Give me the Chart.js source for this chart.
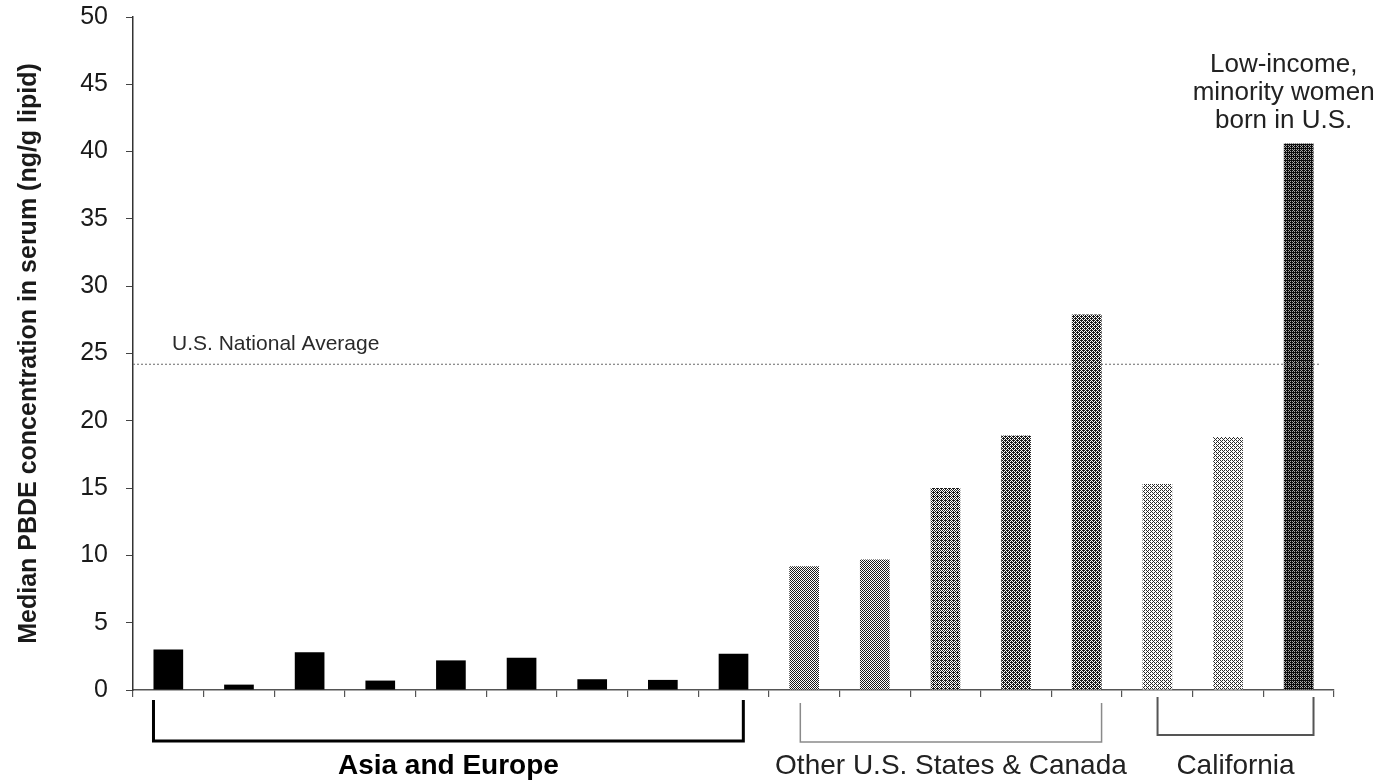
<!DOCTYPE html>
<html>
<head>
<meta charset="utf-8">
<script src="https://cdn.jsdelivr.net/npm/chart.js@4"></script>
<style>
  html, body { margin: 0; padding: 0; background: #fff; }
  #myChart { display: block; }
</style>
</head>
<body>
<canvas id="myChart" width="1395" height="784"></canvas>
<script>
const groupNames = ['Asia and Europe', 'Other U.S. States & Canada', 'California'];
const asiaEurope = [3.0, 0.4, 2.8, 0.7, 2.2, 2.4, 0.8, 0.75, 2.7];
const otherUS = [9.2, 9.7, 15.0, 18.9, 27.9];
const california = [15.3, 18.8, 40.6];
const yTicks = [0, 5, 10, 15, 20, 25, 30, 35, 40, 45, 50];
const nationalAverage = 24.2;
const nationalLabel = 'U.S. National Average';
const highlightLabel = ['Low-income,', 'minority women', 'born in U.S.'];

const groups = [asiaEurope, otherUS, california];
const values = groups.flat();
// one hidden category per bar, named by its group
const labels = [];
groups.forEach((g, gi) => g.forEach((_, i) => labels.push(groupNames[gi] + ' ' + (i + 1))));

const FONT = '"Liberation Sans", Arial, sans-serif';

// ordered-dither stipple, looks like the scanned screen tone
const bayer = [0, 8, 2, 10, 12, 4, 14, 6, 3, 11, 1, 9, 15, 7, 13, 5];
function stipple(ink, paper, level) {
  const c = document.createElement('canvas');
  c.width = 4; c.height = 4;
  const g = c.getContext('2d');
  g.fillStyle = paper;
  g.fillRect(0, 0, 4, 4);
  g.fillStyle = ink;
  bayer.forEach((t, i) => {
    if (t < level) g.fillRect(i % 4, Math.floor(i / 4), 1, 1);
  });
  return g.createPattern(c, 'repeat');
}

const fills = [
  ...asiaEurope.map(() => '#000'),
  stipple('#1c1c1c', '#fff', 8), stipple('#1c1c1c', '#fff', 8),
  stipple('#1c1c1c', '#fff', 9), stipple('#1c1c1c', '#fff', 10), stipple('#1c1c1c', '#fff', 10),
  stipple('#2a2a2a', '#fff', 6), stipple('#2a2a2a', '#fff', 6),
  stipple('#0c0c0c', '#a8a8a8', 11)
];

// bracket look per group: line colour/width, drop below axis, inset from bar edges
const bracketStyle = [
  { color: '#000', width: 3, top: 10, foot: 51, inset: [0, 5], bold: true, text: '#000' },
  { color: '#8a8a8a', width: 1.5, top: 13, foot: 52, inset: [11, 0], bold: false, text: '#222' },
  { color: '#555', width: 2, top: 7, foot: 45, inset: [15, 0], bold: false, text: '#222' }
];

const annotationPlugin = {
  id: 'annotations',
  afterDatasetsDraw(chart) {
    const { ctx, chartArea, scales } = chart;
    const y = scales.y.getPixelForValue(nationalAverage);
    ctx.save();
    ctx.strokeStyle = '#6a6a6a';
    ctx.lineWidth = 1.2;
    ctx.setLineDash([2, 2]);
    ctx.beginPath();
    ctx.moveTo(chartArea.left, y);
    ctx.lineTo(chartArea.right - 14, y);
    ctx.stroke();
    ctx.setLineDash([]);

    ctx.fillStyle = '#2a2a2a';
    ctx.font = '21px ' + FONT;
    ctx.textAlign = 'left';
    ctx.textBaseline = 'alphabetic';
    ctx.fillText(nationalLabel, chartArea.left + 39, y - 14);

    const meta = chart.getDatasetMeta(0);
    const last = meta.data[meta.data.length - 1];
    ctx.font = '26px ' + FONT;
    ctx.textAlign = 'center';
    ctx.fillStyle = '#222';
    highlightLabel.forEach((line, i) => {
      const k = highlightLabel.length - 1 - i;
      ctx.fillText(line, last.x - 15, last.y - 16 - k * 28);
    });
    ctx.restore();
  },
  afterDraw(chart) {
    const { ctx, chartArea } = chart;
    const meta = chart.getDatasetMeta(0);
    let start = 0;
    ctx.save();
    groups.forEach((g, gi) => {
      const st = bracketStyle[gi];
      const first = meta.data[start];
      const lastBar = meta.data[start + g.length - 1];
      const x0 = first.x - first.width / 2 + st.inset[0];
      const x1 = lastBar.x + lastBar.width / 2 - st.inset[1];
      const yTop = chartArea.bottom + st.top;
      const yFoot = chartArea.bottom + st.foot;
      ctx.strokeStyle = st.color;
      ctx.lineWidth = st.width;
      ctx.beginPath();
      ctx.moveTo(x0, yTop);
      ctx.lineTo(x0, yFoot);
      ctx.lineTo(x1, yFoot);
      ctx.lineTo(x1, yTop);
      ctx.stroke();

      ctx.fillStyle = st.text;
      ctx.font = (st.bold ? 'bold ' : '') + '28px ' + FONT;
      ctx.textAlign = 'center';
      ctx.textBaseline = 'alphabetic';
      ctx.fillText(groupNames[gi], (x0 + x1) / 2, chartArea.bottom + 84);
      start += g.length;
    });
    ctx.restore();
  }
};

new Chart('myChart', {
  type: 'bar',
  data: {
    labels: labels,
    datasets: [{
      data: values,
      backgroundColor: fills,
      borderWidth: 0,
      barPercentage: 0.42,
      categoryPercentage: 1.0
    }]
  },
  plugins: [annotationPlugin],
  options: {
    responsive: false,
    animation: false,
    devicePixelRatio: 1,
    layout: { padding: { top: 17, right: 61, left: 0, bottom: 0 } },
    plugins: {
      legend: { display: false },
      tooltip: { enabled: false }
    },
    scales: {
      x: {
        offset: true,
        grid: { offset: true, drawOnChartArea: false, drawTicks: true, tickLength: 7, color: '#555', lineWidth: 1.2 },
        border: { display: true, color: '#555', width: 1.5 },
        ticks: { display: false },
        afterFit(scale) { scale.height = 94; }
      },
      y: {
        min: 0,
        max: 50,
        afterBuildTicks(scale) { scale.ticks = yTicks.map(v => ({ value: v })); },
        grid: { drawOnChartArea: false, drawTicks: true, tickLength: 7, color: '#444' },
        border: { display: true, color: '#333', width: 1.5 },
        ticks: {
          color: '#1a1a1a',
          padding: 18,
          font: { family: FONT, size: 25 }
        },
        title: {
          display: true,
          text: 'Median PBDE concentration in serum (ng/g lipid)',
          color: '#1a1a1a',
          padding: { top: 14, bottom: 0 },
          font: { family: FONT, size: 25, weight: 'bold' }
        },
        afterFit(scale) {
          scale.width = 133;
          scale.paddingTop = 0;
          scale.paddingBottom = 0;
        }
      }
    }
  }
});
</script>
</body>
</html>
